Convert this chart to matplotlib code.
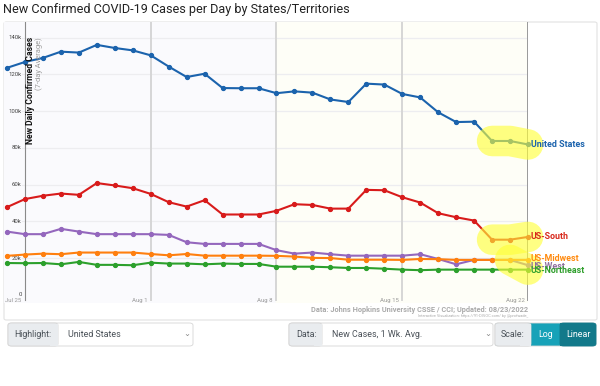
import numpy as np
import pandas as pd
import matplotlib
matplotlib.use('Agg')
import matplotlib.pyplot as plt
from matplotlib.patches import FancyBboxPatch, Rectangle

# === Data (7-day average new cases, thousands) ===
dates = pd.date_range('2022-07-24', '2022-08-22', freq='D')
united_states = [123.6, 126.8, 129.0, 132.4, 131.9, 136.1, 134.4, 133.1, 130.4, 124.3,
                 118.6, 120.4, 112.6, 112.5, 112.5, 109.8, 110.8, 110.1, 106.4, 105.0,
                 115.0, 114.5, 109.4, 107.5, 99.4, 94.1, 94.3, 83.8, 83.8, 81.9]
us_south = [47.8, 52.2, 54.0, 55.2, 54.5, 60.9, 59.6, 58.1, 55.0, 50.5,
            48.1, 51.6, 43.8, 43.8, 43.8, 45.8, 49.4, 49.0, 47.0, 47.0,
            57.2, 57.0, 53.2, 50.3, 44.5, 42.3, 40.5, 30.1, 30.1, 31.6]
us_west = [34.5, 33.1, 33.1, 36.0, 34.5, 33.1, 33.1, 33.1, 33.1, 32.7,
           28.7, 27.8, 27.8, 27.8, 27.8, 24.4, 22.5, 23.1, 22.2, 21.4,
           21.4, 21.4, 21.4, 22.2, 19.6, 16.7, 19.1, 19.1, 19.1, 16.2]
us_midwest = [21.3, 22.0, 22.5, 22.2, 23.1, 23.1, 23.1, 23.1, 22.3, 21.6,
              22.3, 21.4, 21.4, 21.4, 21.4, 21.3, 20.9, 20.2, 20.1, 19.2,
              19.2, 19.2, 19.1, 19.6, 19.5, 19.1, 19.1, 19.1, 19.1, 19.1]
us_northeast = [17.4, 17.3, 17.4, 16.7, 18.0, 16.4, 16.4, 16.2, 17.6, 17.1,
                17.1, 16.7, 17.1, 16.9, 16.9, 15.4, 15.4, 15.4, 15.1, 14.7,
                14.7, 14.3, 13.8, 13.5, 13.8, 13.8, 13.8, 13.8, 13.8, 13.8]

series = [
    ('United States', united_states, '#1b63ad'),
    ('US-South', us_south, '#d81b1b'),
    ('US-West', us_west, '#9467bd'),
    ('US-Midwest', us_midwest, '#ff7f0e'),
    ('US-Northeast', us_northeast, '#2ca02c'),
]
label_colors = {'United States': '#1b63ad', 'US-South': '#d8281b', 'US-Midwest': '#ff8a0e',
                'US-West': '#8f6f9f', 'US-Northeast': '#2f9f2c'}
label_offsets = {'United States': 0, 'US-South': 0, 'US-Midwest': -0.8,
                 'US-West': 0.6, 'US-Northeast': 0.6}

y_ticks = [0, 20, 40, 60, 80, 100, 120, 140]
x_ticks = ['2022-07-25', '2022-08-01', '2022-08-08', '2022-08-15', '2022-08-22']
x_ticklabels = ['Jul 25', 'Aug 1', 'Aug 8', 'Aug 15', 'Aug 22']

W, H = 600, 386
fig = plt.figure(figsize=(W / 100, H / 100), dpi=100)
plt.rcParams['font.family'] = ['Roboto', 'DejaVu Sans']


def fx(px):
    return px / W


def fy(py):
    return 1 - py / H


# title
fig.text(fx(3), fy(10), 'New Confirmed COVID-19 Cases per Day by States/Territories',
         fontsize=9.1, color='#222222', va='center', ha='left')

# panel
fig.patches.append(FancyBboxPatch((fx(4), fy(320)), fx(593), (320 - 22) / H,
                                  boxstyle='round,pad=0,rounding_size=0.004',
                                  transform=fig.transFigure, facecolor='white',
                                  edgecolor='#e2e2e2', linewidth=0.8, zorder=-5))

# plot axes: x px 4..528, y px 22..303
ax_top, ax_bot = 22, 303
ax = fig.add_axes([fx(4), fy(ax_bot), fx(528 - 4), (ax_bot - ax_top) / H], zorder=3)
ax.patch.set_alpha(0)
for s in ax.spines.values():
    s.set_visible(False)
ax.set_xticks([]); ax.set_yticks([])

px_per_k = (295 - 37.7) / 140.0
ymin = -(ax_bot - 295) / px_per_k
ymax = (295 - ax_top) / px_per_k
ax.set_ylim(ymin, ymax)
day = pd.Timedelta(days=1)
x0 = dates[0] - day * (3 / 17.93)
ax.set_xlim(x0, dates[-1])

# background regions
ax.axvspan(x0, pd.Timestamp('2022-08-08'), color='#fafafd', zorder=0)
ax.axvspan(pd.Timestamp('2022-08-08'), dates[-1], color='#fefef7', zorder=0)

# horizontal grid
for yt in y_ticks[1:]:
    ax.plot([dates[0] + day * 0.85, dates[-1]], [yt, yt], color='#ededf0', lw=0.9, zorder=1)
for yt in y_ticks:
    lab = f'{yt}k' if yt else '0'
    ax.text(dates[0] + day * 0.82, yt, lab, fontsize=4.3, color='#444444',
            ha='right', va='center')

# vertical lines + x labels
for i, (d, lab) in enumerate(zip(x_ticks, x_ticklabels)):
    d = pd.Timestamp(d)
    if i == 0:
        c, lw = '#8a8a8a', 0.8
    elif i == len(x_ticks) - 1:
        c, lw = '#9a9a9a', 1.4
    else:
        c, lw = '#d6d6d6', 1.4
    ax.axvline(d, ymin=0.01, ymax=1, color=c, lw=lw, zorder=1)
    ax.text(d - day * 0.2, -1.4, lab, fontsize=4.3, color='#999999', ha='right', va='top')

# series
for name, vals, col in series:
    ax.plot(dates, vals, color=col, lw=1.5, marker='o', ms=2.8, mec=col, mfc=col,
            zorder=3, clip_on=False)
    ax.text(dates[-1] + day * 0.15, vals[-1] - label_offsets[name], name,
            fontsize=6.4, fontweight='bold', color=label_colors[name],
            ha='left', va='center', clip_on=False, zorder=5)

# yellow highlights
hl = dict(color='#ffff38', alpha=0.62, lw=22, solid_capstyle='round', zorder=4, clip_on=False)
ax.plot(dates[-3:], united_states[-3:], **hl)
ax.plot(dates[-3:], us_south[-3:], **hl)
ax.plot([dates[-2], dates[-1]], [us_west[-2], us_northeast[-1]], **hl)

# axis title
ax.text(dates[0] + day * 1.3, 140.5, 'New Daily Confirmed Cases', rotation=90,
        fontsize=6.2, fontweight='bold', color='#111111', ha='center', va='top')
ax.text(dates[0] + day * 1.8, 140.5, '(7-day Average)', rotation=90,
        fontsize=5.4, color='#9a9a9a', ha='center', va='top')

# footer
fig.text(fx(528), fy(310), 'Data: Johns Hopkins University CSSE / CCI; Updated: 08/23/2022',
         fontsize=5.3, fontweight='bold', color='#aaaaaa', ha='right', va='center')
fig.text(fx(528), fy(316.5), 'Interactive Visualization: https://91-DIVOC.com/ by @profwade_',
         fontsize=2.8, color='#aaaaaa', ha='right', va='center')


# control row
def box(x1, x2, y1, y2, fc, ec='#d6d6d6'):
    fig.patches.append(FancyBboxPatch((fx(x1), fy(y2)), fx(x2 - x1), (y2 - y1) / H,
                                      boxstyle='round,pad=0,rounding_size=0.006',
                                      transform=fig.transFigure, facecolor=fc,
                                      edgecolor=ec, linewidth=0.6))


def rect(x1, x2, y1, y2, fc):
    fig.patches.append(Rectangle((fx(x1), fy(y2)), fx(x2 - x1), (y2 - y1) / H,
                                 transform=fig.transFigure, facecolor=fc, edgecolor='none'))


cy1, cy2 = 323, 346
cy = (cy1 + cy2) / 2
ctl = dict(fontsize=6.4, color='#495057', va='center')
box(8, 193, cy1, cy2, 'white')
box(8, 58, cy1, cy2, '#e9ecef')
rect(50, 58, cy1 + 0.5, cy2 - 0.5, '#e9ecef')
fig.text(fx(14.5), fy(cy), 'Highlight:', **ctl)
fig.text(fx(68), fy(cy), 'United States', **ctl)
fig.text(fx(187), fy(cy - 0.5), '⌄', fontsize=6, color='#888888', va='center', ha='center',
         family='DejaVu Sans')

box(289, 493, cy1, cy2, 'white')
box(289, 322, cy1, cy2, '#e9ecef')
rect(314, 322, cy1 + 0.5, cy2 - 0.5, '#e9ecef')
fig.text(fx(296), fy(cy), 'Data:', **ctl)
fig.text(fx(332), fy(cy), 'New Cases, 1 Wk. Avg.', **ctl)
fig.text(fx(488), fy(cy - 0.5), '⌄', fontsize=6, color='#888888', va='center', ha='center',
         family='DejaVu Sans')

box(495, 596, cy1, cy2, '#17a2b8')
box(495, 531, cy1, cy2, '#e9ecef')
rect(520, 531, cy1 + 0.5, cy2 - 0.5, '#e9ecef')
box(560, 596, cy1, cy2, '#12798a', ec='#12798a')
rect(560, 570, cy1 + 0.3, cy2 - 0.3, '#12798a')
fig.text(fx(501), fy(cy), 'Scale:', **ctl)
fig.text(fx(545.5), fy(cy), 'Log', ha='center', **{**ctl, 'color': 'white'})
fig.text(fx(578), fy(cy), 'Linear', ha='center', **{**ctl, 'color': 'white'})

fig.savefig('out.png', dpi=100)
